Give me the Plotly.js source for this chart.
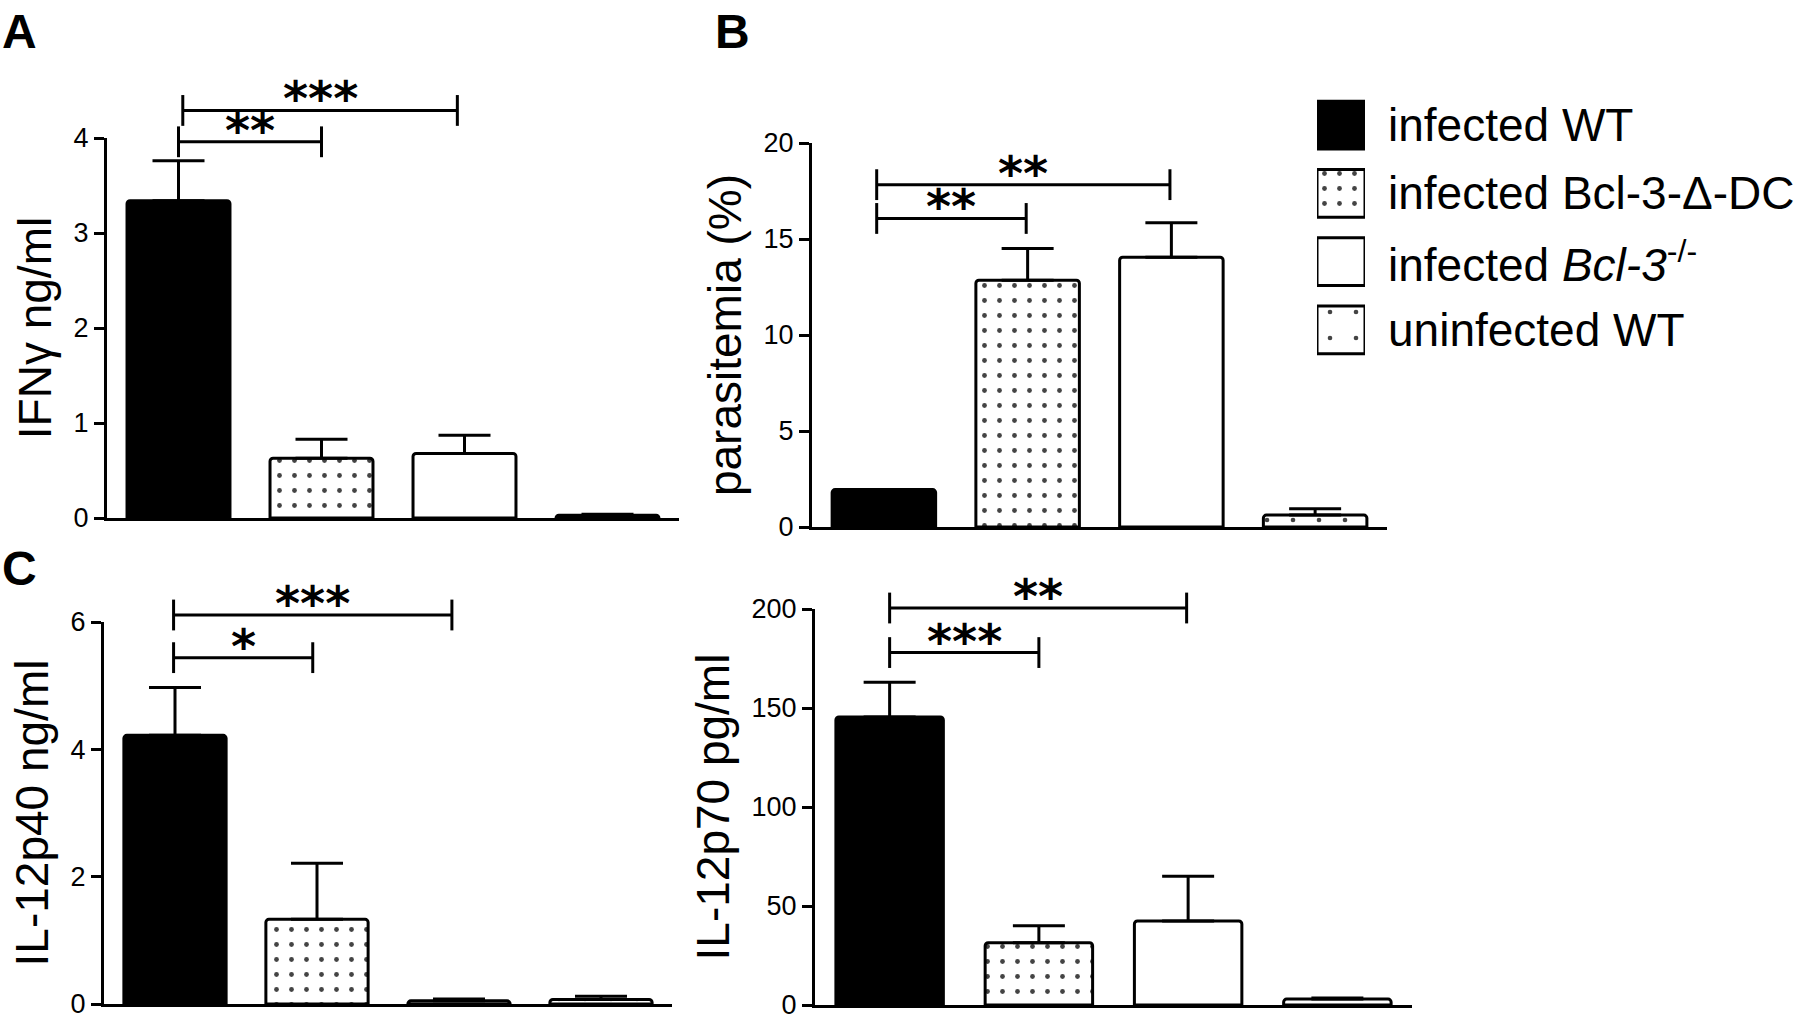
<!DOCTYPE html>
<html><head><meta charset="utf-8">
<script src="https://cdn.plot.ly/plotly-3.0.1.min.js"></script>
<style>html,body{margin:0;padding:0;background:#fff}#chart{width:1800px;height:1019px}</style>
</head><body><div id="chart"></div>
<script>
// ---------- data ----------
const groups = ['infected WT', 'infected Bcl-3-Δ-DC', 'infected <i>Bcl-3</i><sup>-/-</sup>', 'uninfected WT'];
const groupPos = [0, 1, 2, 3];

const ifnMean = [3.34, 0.63, 0.68, 0.03];
const ifnErr  = [0.42, 0.20, 0.19, 0.01];
const ifnTicks = [0, 1, 2, 3, 4];
const ifnSigFrom = [0, 0.03], ifnSigTo = [1.0, 1.95], ifnSigY = [3.96, 4.29], ifnSigLabel = ['**', '***'];

const paraMean = [1.95, 12.85, 14.05, 0.62];
const paraErr  = [0, 1.65, 1.8, 0.33];
const paraTicks = [0, 5, 10, 15, 20];
const paraSigFrom = [-0.05, -0.05], paraSigTo = [0.99, 1.99], paraSigY = [16.07, 17.83], paraSigLabel = ['**', '**'];

const p40Mean = [4.22, 1.33, 0.05, 0.07];
const p40Err  = [0.75, 0.88, 0.03, 0.05];
const p40Ticks = [0, 2, 4, 6];
const p40SigFrom = [-0.01, -0.01], p40SigTo = [0.97, 1.95], p40SigY = [5.44, 6.11], p40SigLabel = ['*', '***'];

const p70Mean = [145.5, 31.5, 42.4, 3.0];
const p70Err  = [17.5, 8.5, 22.6, 0.5];
const p70Ticks = [0, 50, 100, 150, 200];
const p70SigFrom = [0, 0], p70SigTo = [1.0, 1.99], p70SigY = [178, 200.5], p70SigLabel = ['***', '**'];

// ---------- styling ----------
const W = 1800, H = 1019;
const FONT = 'Liberation Sans, Arial, Helvetica, sans-serif';
const fillColor = ['#000000', '#ffffff', '#ffffff', '#ffffff'];
const patternShape = ['', '.', '', '.'];
const patternSize = [15, 15, 15, 26];
const patternSolidity = [0.05, 0.08, 0.05, 0.025];

const panels = [
  {title: 'IFNγ ng/ml', mean: ifnMean, err: ifnErr, ticks: ifnTicks, sf: ifnSigFrom, st: ifnSigTo, sy: ifnSigY, sl: ifnSigLabel, box: {l: 107, r: 679, b: 518, t: 138}},
  {title: 'parasitemia (%)', mean: paraMean, err: paraErr, ticks: paraTicks, sf: paraSigFrom, st: paraSigTo, sy: paraSigY, sl: paraSigLabel, box: {l: 812, r: 1387, b: 527, t: 143}},
  {title: 'IL-12p40 ng/ml', mean: p40Mean, err: p40Err, ticks: p40Ticks, sf: p40SigFrom, st: p40SigTo, sy: p40SigY, sl: p40SigLabel, box: {l: 104, r: 672, b: 1004, t: 622}},
  {title: 'IL-12p70 pg/ml', mean: p70Mean, err: p70Err, ticks: p70Ticks, sf: p70SigFrom, st: p70SigTo, sy: p70SigY, sl: p70SigLabel, box: {l: 815, r: 1412, b: 1005, t: 609}}
];

const data = [], annotations = [];
const layout = {
  width: W, height: H, margin: {l: 0, r: 0, t: 0, b: 0},
  paper_bgcolor: '#ffffff', plot_bgcolor: 'rgba(0,0,0,0)',
  showlegend: false, font: {family: FONT, color: '#000'},
  annotations: annotations
};

const hidden = {showline: false, showticklabels: false, ticks: '', showgrid: false, zeroline: false, fixedrange: true};
const pattern = {shape: patternShape, fillmode: 'overlay', fgcolor: '#000', fgopacity: 1, size: patternSize, solidity: patternSolidity};

panels.forEach((p, i) => {
  const n = i + 1;
  const xa = n === 1 ? 'x' : 'x' + n;
  const ya = n === 1 ? 'y' : 'y' + n;
  const yb = 'y' + (n + 4);
  const top = p.ticks[p.ticks.length - 1];
  const pxPerUnit = (p.box.b - p.box.t) / top;
  const extTopPx = p.box.t - 60;
  const extTop = (p.box.b - extTopPx) / pxPerUnit;

  layout['xaxis' + (n === 1 ? '' : n)] = {
    domain: [p.box.l / W, p.box.r / W], range: [-0.5, 3.5], anchor: ya,
    showline: true, linewidth: 3, linecolor: '#000', showticklabels: false, ticks: '',
    showgrid: false, zeroline: false, fixedrange: true
  };
  layout['yaxis' + (n === 1 ? '' : n)] = {
    domain: [1 - p.box.b / H, 1 - p.box.t / H], range: [0, top], anchor: xa,
    showline: true, linewidth: 3, linecolor: '#000',
    ticks: 'outside', ticklen: 10, tickwidth: 3, tickcolor: '#000',
    tickvals: p.ticks, ticktext: p.ticks.map(String), ticklabeloverflow: 'allow',
    tickfont: {size: 27, family: FONT, color: '#000'},
    showgrid: false, zeroline: false, fixedrange: true,
    title: {text: p.title, font: {size: 46, family: FONT, color: '#000'}, standoff: 8}
  };
  layout['yaxis' + (n + 4)] = Object.assign({
    domain: [1 - p.box.b / H, 1 - extTopPx / H], range: [0, extTop], anchor: xa
  }, hidden);

  data.push({
    type: 'bar', x: groupPos, y: p.mean, xaxis: xa, yaxis: ya, width: 0.72,
    marker: {color: fillColor, cornerradius: 3, line: {color: '#000', width: 3}, pattern: pattern},
    error_y: {type: 'data', symmetric: false, array: p.err, arrayminus: p.err.map(() => 0), color: '#000', thickness: 3, width: 26},
    hoverinfo: 'skip'
  });

  // significance brackets
  const bx = [], by = [];
  p.sf.forEach((f, k) => {
    bx.push(f, p.st[k], null);
    by.push(p.sy[k], p.sy[k], null);
    annotations.push({
      xref: xa, yref: yb, x: (f + p.st[k]) / 2, y: p.sy[k], text: '<b>' + p.sl[k] + '</b>',
      showarrow: false, xanchor: 'center', yanchor: 'middle', yshift: 12,
      font: {family: 'DejaVu Sans, sans-serif', size: 48, color: '#000'}
    });
  });
  data.push({
    type: 'scatter', mode: 'lines+markers', x: bx, y: by, xaxis: xa, yaxis: yb,
    connectgaps: false, cliponaxis: false,
    line: {color: '#000', width: 3},
    marker: {symbol: 'line-ns', size: 22, line: {color: '#000', width: 3}},
    hoverinfo: 'skip'
  });
});

// ---------- legend (swatches as bars) ----------
layout.xaxis5 = Object.assign({domain: [1317 / W, 1365 / W], range: [0, 1], anchor: 'y9'}, hidden);
layout.yaxis9 = Object.assign({domain: [1 - 364 / H, 1 - 91 / H], range: [3.5, -0.5], anchor: 'x5'}, hidden);
data.push({
  type: 'bar', orientation: 'h', x: groups.map(() => 1), y: groupPos, base: 0, width: 0.7,
  xaxis: 'x5', yaxis: 'y9',
  marker: {color: fillColor, line: {color: '#000', width: 3}, pattern: pattern},
  hoverinfo: 'skip'
});
groups.forEach((g, k) => {
  annotations.push({
    xref: 'paper', yref: 'y9', x: 1386 / W, y: groupPos[k], text: g,
    showarrow: false, xanchor: 'left', yanchor: 'middle',
    font: {family: FONT, size: 46, color: '#000'}
  });
});

// ---------- panel letters ----------
const letters = [['A', 0, 31], ['B', 713, 31], ['C', 0, 568]];
letters.forEach(([t, px, py]) => {
  annotations.push({
    xref: 'paper', yref: 'paper', x: px / W, y: 1 - py / H, text: '<b>' + t + '</b>',
    showarrow: false, xanchor: 'left', yanchor: 'middle',
    font: {family: FONT, size: 48, color: '#000'}
  });
});

Plotly.newPlot('chart', data, layout, {staticPlot: true, displayModeBar: false});
</script>
</body></html>
